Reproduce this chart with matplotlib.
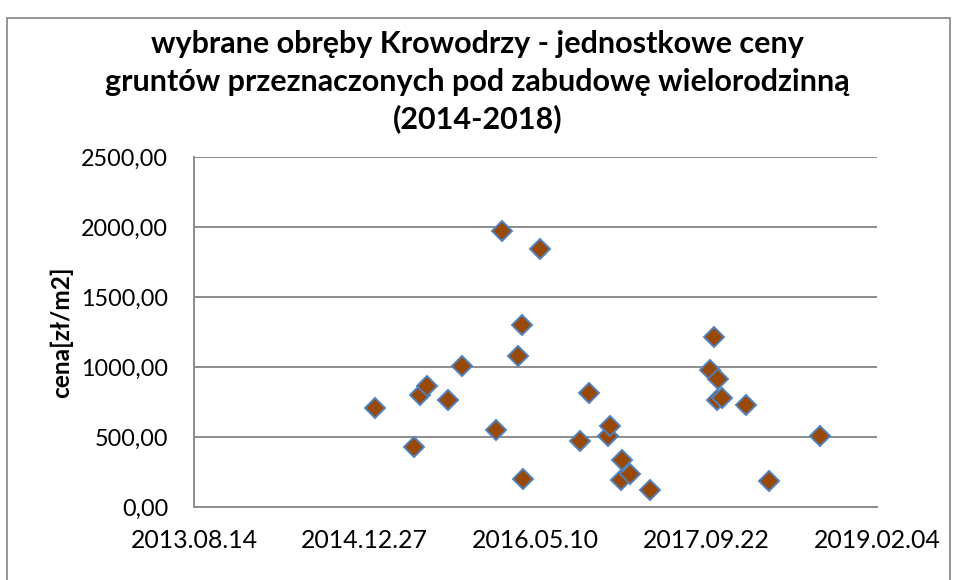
import matplotlib
matplotlib.use("Agg")
import matplotlib.pyplot as plt
import matplotlib.dates as mdates
from matplotlib.patches import Rectangle
import datetime as dt

# ---- data ----
dates = ["2015-01-26", "2015-05-21", "2015-06-07", "2015-06-28", "2015-08-28",
         "2015-10-08", "2016-01-14", "2016-02-02", "2016-03-21", "2016-03-31",
         "2016-04-02", "2016-05-23", "2016-09-17", "2016-10-14", "2016-12-07",
         "2016-12-14", "2017-01-17", "2017-01-15", "2017-02-11", "2017-04-10",
         "2017-10-03", "2017-10-15", "2017-10-25", "2017-10-23", "2017-11-08",
         "2018-01-16", "2018-03-25", "2018-08-21"]
prices = [708, 429, 799, 866, 763,
          1007, 547, 1968, 1078, 1302,
          203, 1842, 475, 816, 508,
          577, 339, 196, 239, 119,
          978, 1216, 914, 763, 776,
          728, 184, 504]
x_ticks = ["2013-08-14", "2014-12-27", "2016-05-10", "2017-09-22", "2019-02-04"]
y_ticks = [0, 500, 1000, 1500, 2000, 2500]
title_lines = ["wybrane obręby Krowodrzy - jednostkowe ceny",
               "gruntów przeznaczonych pod zabudowę wielorodzinną",
               "(2014-2018)"]
y_label = "cena[zł/m2]"

FONT = ["Lato", "DejaVu Sans"]
plt.rcParams['font.family'] = FONT

W, H = 955, 580
fig = plt.figure(figsize=(W / 100, H / 100), dpi=100)
fig.patch.set_facecolor("white")

# outer chart frame (bottom edge cropped)
fig.patches.append(Rectangle((7 / W, -0.05), (950 - 7) / W, 1.05 - 18 / H,
                             transform=fig.transFigure, fill=False,
                             edgecolor="#8c8c8c", linewidth=1.3))

ax = fig.add_axes([194 / W, 1 - 507 / H, (877 - 194) / W, (507 - 157) / H])

xd = [dt.datetime.strptime(d, "%Y-%m-%d") for d in dates]
ax.plot(xd, prices, linestyle="none", marker="D", markersize=10.5,
        markerfacecolor="#984807", markeredgecolor="#4F81BD",
        markeredgewidth=1.4, zorder=3, clip_on=False)

xt = [dt.datetime.strptime(d, "%Y-%m-%d") for d in x_ticks]
ax.set_xlim(xt[0], xt[-1])
ax.set_xticks(xt)
ax.xaxis.set_major_formatter(mdates.DateFormatter("%Y.%m.%d"))
ax.set_ylim(y_ticks[0], y_ticks[-1])
ax.set_yticks(y_ticks)
ax.set_yticklabels([f"{v:.2f}".replace(".", ",") for v in y_ticks])

ax.yaxis.grid(True, color="#8c8c8c", linewidth=1.4, zorder=0)
ax.set_axisbelow(True)
for s in ["top", "right"]:
    ax.spines[s].set_visible(False)
for s in ["left", "bottom"]:
    ax.spines[s].set_color("#8c8c8c")
    ax.spines[s].set_linewidth(1.4)
ax.tick_params(axis="both", length=0, colors="black")
ax.tick_params(axis="y", pad=18.5)
ax.tick_params(axis="x", pad=15.5)

fig.canvas.draw()
renderer = fig.canvas.get_renderer()

# tick label sizes
tl = ax.get_xticklabels()[0]
tl.set_fontsize(18)
w = tl.get_window_extent(renderer).width
xs = 18 * 127 / w
for t in ax.get_xticklabels():
    t.set_fontsize(xs)
yl = ax.get_yticklabels()[-1]
yl.set_fontsize(18)
w = yl.get_window_extent(renderer).width
ys = 18 * 87 / w
for t in ax.get_yticklabels():
    t.set_fontsize(ys)

# title lines
baselines = [53, 90.5, 128]
tobjs = []
for line, b in zip(title_lines, baselines):
    t = fig.text(0.5, 1 - b / H, line, ha="center", va="baseline",
                 fontsize=20, fontweight="bold", color="black")
    tobjs.append(t)
fig.canvas.draw()
w2 = tobjs[1].get_window_extent(renderer).width
ts = 20 * 745 / w2
for t in tobjs:
    t.set_fontsize(ts)

# y label
ylab = fig.text(61 / W, 1 - 332 / H, y_label, rotation=90, ha="center",
                va="center", fontsize=16, fontweight="bold", color="black")
fig.canvas.draw()
h = ylab.get_window_extent(renderer).height
ylab.set_fontsize(16 * 132 / h)

fig.savefig("out.png", dpi=100, facecolor="white")
